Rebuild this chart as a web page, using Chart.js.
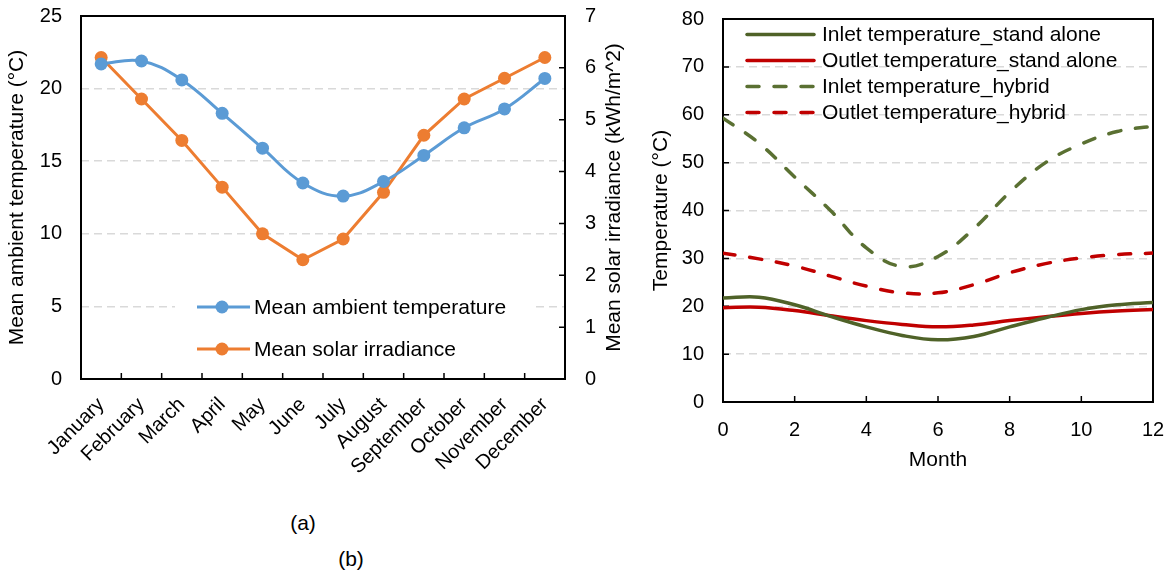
<!DOCTYPE html>
<html>
<head>
<meta charset="utf-8">
<script src="https://cdn.jsdelivr.net/npm/chart.js@4.4.1/dist/chart.umd.min.js"></script>
<style>
  body { margin: 0; background: #fff; width: 1170px; height: 573px; overflow: hidden; position: relative; font-family: "Liberation Sans", Arial, sans-serif; }
  #leftChart { position: absolute; left: 0; top: 0; }
  #rightChart { position: absolute; left: 640px; top: 0; }
  .cap { position: absolute; font-size: 21px; color: #000; transform: translate(-50%, -50%); }
</style>
</head>
<body>
<canvas id="leftChart" width="640" height="500"></canvas>
<canvas id="rightChart" width="530" height="480"></canvas>
<div class="cap" style="left:303px; top:523px">(a)</div>
<div class="cap" style="left:351px; top:559px">(b)</div>
<script>
// (a) monthly climate
const monthNames = ['January', 'February', 'March', 'April', 'May', 'June', 'July',
  'August', 'September', 'October', 'November', 'December'];
const ambientTemp = [21.7, 21.9, 20.6, 18.3, 15.9, 13.5, 12.6, 13.6, 15.4, 17.3, 18.6, 20.7];
const solarIrradiance = [6.2, 5.4, 4.6, 3.7, 2.8, 2.3, 2.7, 3.6, 4.7, 5.4, 5.8, 6.2];

// (b) collector temperatures
const monthIndex = [0, 1, 2, 3, 4, 5, 6, 7, 8, 9, 10, 11, 12];
const inletStandAlone = [21.7, 21.9, 20.3, 17.9, 15.7, 13.9, 13.0, 13.7, 15.7, 17.6, 19.3, 20.3, 20.8];
const outletStandAlone = [19.7, 19.8, 19.1, 18.0, 17.0, 16.2, 15.7, 16.1, 17.0, 17.8, 18.5, 19.0, 19.3];
const inletHybrid = [59.3, 54.1, 47.0, 40.0, 32.2, 28.3, 30.4, 36.2, 43.8, 50.0, 53.9, 56.5, 57.6];
const outletHybrid = [31.1, 29.9, 28.4, 26.3, 24.2, 22.8, 22.8, 24.5, 27.0, 28.9, 30.1, 30.8, 31.1];

Chart.defaults.font.family = "'Liberation Sans', Arial, sans-serif";
Chart.defaults.color = '#000';

const FONT = "'Liberation Sans', Arial, sans-serif";
const NONE = 'rgba(0,0,0,0)';
const gridColor = ctx => (ctx.tick && (ctx.index === 0 || ctx.tick.value === ctx.scale.max)) ? NONE : '#d9d9d9';

// frame around the plot + small inward tick marks
const frame = {
  id: 'frame',
  beforeDatasetsDraw(chart, args, opts) {
    const { ctx, chartArea: a } = chart;
    ctx.save();
    ctx.strokeStyle = '#000';
    ctx.lineWidth = 1.5;
    ctx.beginPath();
    (opts.inward || []).forEach(id => {
      const s = chart.scales[id];
      if (s.isHorizontal()) {
        let xs = [];
        if (s.type === 'category') {
          for (let i = 1; i < s.ticks.length; i++) xs.push((s.getPixelForTick(i - 1) + s.getPixelForTick(i)) / 2);
        } else {
          xs = s.ticks.map(t => s.getPixelForValue(t.value));
        }
        xs.forEach(x => { ctx.moveTo(x, a.bottom); ctx.lineTo(x, a.bottom - 6); });
      } else {
        const right = s.position === 'right';
        const x0 = right ? a.right : a.left;
        s.ticks.forEach(t => {
          const y = s.getPixelForValue(t.value);
          ctx.moveTo(x0, y);
          ctx.lineTo(right ? x0 - 6 : x0 + 6, y);
        });
      }
    });
    ctx.stroke();
    ctx.lineWidth = 2;
    ctx.strokeRect(a.left, a.top, a.right - a.left, a.bottom - a.top);

    // right-hand axis title, read bottom to top like the left one
    if (opts.rightTitle) {
      const s = chart.scales.y1;
      ctx.save();
      ctx.translate(s.right - 15, (a.top + a.bottom) / 2);
      ctx.rotate(-Math.PI / 2);
      ctx.fillStyle = '#000';
      ctx.font = '21px ' + FONT;
      ctx.textAlign = 'center';
      ctx.textBaseline = 'middle';
      ctx.fillText(opts.rightTitle, 0, 0);
      ctx.restore();
    }

    // left chart legend sits on a white box
    if (opts.legendBox) {
      ctx.fillStyle = '#fff';
      ctx.fillRect(a.left + 94, a.bottom - 90, 356, 78);
      chart.data.datasets.forEach((ds, i) => {
        const y = a.bottom - 72 + i * 42;
        ctx.strokeStyle = ds.borderColor;
        ctx.lineWidth = 3;
        ctx.beginPath();
        ctx.moveTo(a.left + 116, y);
        ctx.lineTo(a.left + 169, y);
        ctx.stroke();
        ctx.fillStyle = ds.borderColor;
        ctx.beginPath();
        ctx.arc(a.left + 141, y, 6.5, 0, Math.PI * 2);
        ctx.fill();
        ctx.fillStyle = '#000';
        ctx.font = '21px ' + FONT;
        ctx.textBaseline = 'middle';
        ctx.fillText(ds.label, a.left + 173, y + 1);
      });
    }
    ctx.restore();
  },
  afterDatasetsDraw(chart, args, opts) {
    if (!opts.lineLegend) return;
    const { ctx, chartArea: a } = chart;
    ctx.save();
    chart.data.datasets.forEach((ds, i) => {
      const y = a.top + 15.5 + i * 26;
      ctx.strokeStyle = ds.borderColor;
      ctx.lineWidth = ds.borderWidth;
      ctx.lineCap = 'round';
      ctx.setLineDash(ds.borderDash || []);
      ctx.beginPath();
      ctx.moveTo(a.left + 24, y);
      ctx.lineTo(a.left + 91, y);
      ctx.stroke();
      ctx.setLineDash([]);
      ctx.fillStyle = '#000';
      ctx.font = '21px ' + FONT;
      ctx.textBaseline = 'middle';
      ctx.fillText(ds.label, a.left + 99, y + 1);
    });
    ctx.restore();
  }
};

new Chart(document.getElementById('leftChart'), {
  type: 'line',
  data: {
    labels: monthNames,
    datasets: [{
      label: 'Mean ambient temperature',
      data: ambientTemp,
      yAxisID: 'y',
      borderColor: '#5B9BD5',
      backgroundColor: '#5B9BD5',
      borderWidth: 3,
      tension: 0.4,
      pointRadius: 6.5,
      pointBorderWidth: 0
    }, {
      label: 'Mean solar irradiance',
      data: solarIrradiance,
      yAxisID: 'y1',
      borderColor: '#ED7D31',
      backgroundColor: '#ED7D31',
      borderWidth: 3,
      tension: 0,
      pointRadius: 6.5,
      pointBorderWidth: 0
    }]
  },
  options: {
    responsive: false,
    animation: false,
    layout: { padding: { left: 0, right: 11, top: 16, bottom: 0 } },
    plugins: {
      legend: { display: false },
      tooltip: { enabled: false },
      frame: { inward: ['x', 'y1'], legendBox: true, rightTitle: 'Mean solar irradiance (kWh/m^2)' }
    },
    scales: {
      x: {
        type: 'category',
        offset: true,
        grid: { display: false },
        border: { display: false },
        ticks: { font: { size: 20 }, minRotation: 45, maxRotation: 45, autoSkip: false, padding: 6 },
        afterFit(s) { s.height = 121; }
      },
      y: {
        position: 'left',
        min: 0, max: 25,
        ticks: { stepSize: 5, font: { size: 20 }, padding: 0 },
        grid: { color: gridColor, lineWidth: 1.5, drawTicks: true, tickLength: 19, tickColor: NONE },
        border: { display: false, dash: [8, 5] },
        title: { display: true, text: 'Mean ambient temperature (°C)', font: { size: 21 }, padding: { top: 5, bottom: 0 } },
        afterFit(s) { s.width = 81; }
      },
      y1: {
        position: 'right',
        min: 0, max: 7,
        ticks: { stepSize: 1, font: { size: 20 }, padding: 0 },
        grid: { drawOnChartArea: false, drawTicks: true, tickLength: 20, tickColor: NONE },
        border: { display: false },
        afterFit(s) { s.width = 64; }
      }
    }
  },
  plugins: [frame]
});

const pts = vals => monthIndex.map((m, i) => ({ x: m, y: vals[i] }));

new Chart(document.getElementById('rightChart'), {
  type: 'line',
  data: {
    datasets: [{
      label: 'Inlet temperature_stand alone',
      data: pts(inletStandAlone),
      borderColor: '#4F6228',
      borderWidth: 3.5
    }, {
      label: 'Outlet temperature_stand alone',
      data: pts(outletStandAlone),
      borderColor: '#C00000',
      borderWidth: 3.5
    }, {
      label: 'Inlet temperature_hybrid',
      data: pts(inletHybrid),
      borderColor: '#5A7032',
      borderWidth: 3.5,
      borderDash: [12, 15]
    }, {
      label: 'Outlet temperature_hybrid',
      data: pts(outletHybrid),
      borderColor: '#C00000',
      borderWidth: 3.5,
      borderDash: [12, 15]
    }]
  },
  options: {
    responsive: false,
    animation: false,
    elements: { point: { radius: 0 }, line: { tension: 0.4, borderCapStyle: 'round' } },
    layout: { padding: { left: 0, right: 17, top: 19, bottom: 0 } },
    plugins: {
      legend: { display: false },
      tooltip: { enabled: false },
      frame: { inward: ['x', 'y'], lineLegend: true }
    },
    scales: {
      x: {
        type: 'linear',
        min: 0, max: 12,
        ticks: { stepSize: 2, font: { size: 20 }, padding: 0 },
        grid: { display: true, drawOnChartArea: false, drawTicks: true, tickLength: 16, tickColor: NONE },
        border: { display: false },
        title: { display: true, text: 'Month', font: { size: 21 }, padding: { top: 0, bottom: 7 } },
        afterFit(s) { s.height = 78; }
      },
      y: {
        min: 0, max: 80,
        ticks: { stepSize: 10, font: { size: 20 }, padding: 0 },
        grid: { color: gridColor, lineWidth: 1.5, drawTicks: true, tickLength: 19, tickColor: NONE },
        border: { display: false, dash: [8, 5] },
        title: { display: true, text: 'Temperature (°C)', font: { size: 21 }, padding: { top: 9, bottom: 0 } },
        afterFit(s) { s.width = 83; }
      }
    }
  },
  plugins: [frame]
});
</script>
</body>
</html>
